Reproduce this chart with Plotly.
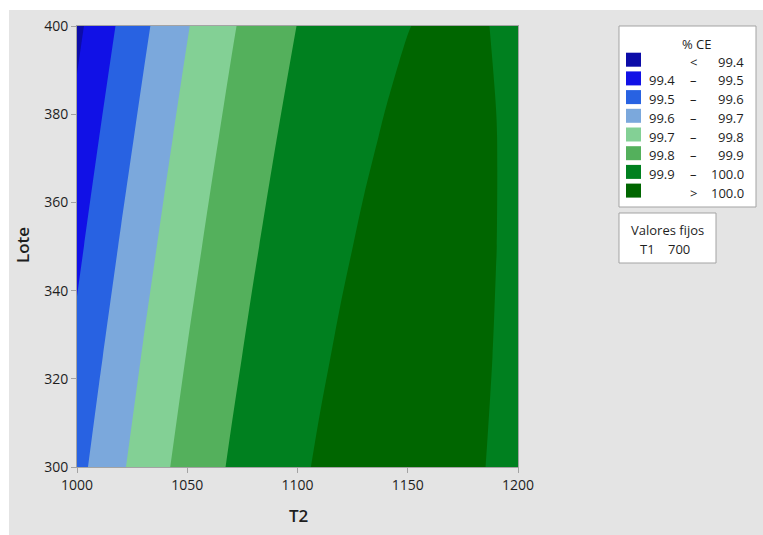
import plotly.graph_objects as go

# Response grid: %CE over T2 (columns) and Lote (rows), with T1 held at 700
T2 = [1000, 1010, 1020, 1030, 1040, 1050, 1060, 1070, 1080, 1090, 1100,
      1110, 1120, 1130, 1140, 1150, 1160, 1170, 1180, 1190, 1200]
LOTE = [300, 325, 350, 375, 400]
CE = [
    [99.5693, 99.6310, 99.6883, 99.7413, 99.7899, 99.8341, 99.8739, 99.9093, 99.9403, 99.9669, 99.9892,
     100.0070, 100.0205, 100.0296, 100.0343, 100.0346, 100.0305, 100.0220, 100.0091, 99.9919, 99.9703],
    [99.5256, 99.5899, 99.6498, 99.7054, 99.7566, 99.8034, 99.8458, 99.8838, 99.9174, 99.9467, 99.9715,
     99.9920, 100.0080, 100.0197, 100.0270, 100.0299, 100.0285, 100.0226, 100.0123, 99.9977, 99.9787],
    [99.4790, 99.5460, 99.6085, 99.6667, 99.7205, 99.7699, 99.8149, 99.8555, 99.8917, 99.9236, 99.9510,
     99.9741, 99.9927, 100.0070, 100.0169, 100.0225, 100.0236, 100.0203, 100.0127, 100.0006, 99.9842],
    [99.4296, 99.4992, 99.5643, 99.6251, 99.6815, 99.7335, 99.7811, 99.8243, 99.8631, 99.8976, 99.9277,
     99.9533, 99.9746, 99.9915, 100.0040, 100.0121, 100.0159, 100.0152, 100.0102, 100.0007, 99.9869],
    [99.3774, 99.4495, 99.5173, 99.5807, 99.6397, 99.6943, 99.7445, 99.7903, 99.8317, 99.8688, 99.9015,
     99.9297, 99.9536, 99.9731, 99.9882, 99.9990, 100.0053, 100.0072, 100.0048, 99.9980, 99.9868],
]

# Contour bands
LEVEL_START, LEVEL_END, LEVEL_STEP = 99.4, 100.0, 0.1
BAND_COLORS = ["#0c0ca8", "#1111e6", "#2862e2", "#7ba8dc",
               "#83d095", "#54b05c", "#00801f", "#006600"]
BAND_LOW = ["", "99.4", "99.5", "99.6", "99.7", "99.8", "99.9", ""]
BAND_SEP = ["<", "–", "–", "–", "–", "–", "–", ">"]
BAND_HIGH = ["99.4", "99.5", "99.6", "99.7", "99.8", "99.9", "100.0", "100.0"]

FIXED_NAME = "T1"
FIXED_VALUE = "700"

FONT = "Open Sans"
TEXT = "#1e1e1e"
FRAME = "#a3a3a3"
BG = "#e4e4e4"

# stepwise colorscale: one flat colour per filled band
n = len(BAND_COLORS)
colorscale = []
for k, c in enumerate(BAND_COLORS):
    lo = max(0.0, (2 * k - 1) / (2 * (n - 1)))
    hi = min(1.0, (2 * k + 1) / (2 * (n - 1)))
    colorscale += [[lo, c], [hi, c]]

fig = go.Figure(go.Contour(
    x=T2, y=LOTE, z=CE,
    colorscale=colorscale,
    autocontour=False,
    contours=dict(start=LEVEL_START, end=LEVEL_END, size=LEVEL_STEP, coloring="fill"),
    line=dict(width=0, smoothing=1),
    showscale=False,
    hoverinfo="x+y+z",
))

# page geometry (pixels)
W, H = 763, 535
ML, MT, PW, PH = 77, 26, 441, 441


def fx(px):
    return (px - ML) / PW


def fy(py):
    return (MT + PH - py) / PH


shapes = [
    dict(type="rect", xref="paper", yref="paper", layer="below",
         x0=fx(9), x1=fx(W), y0=fy(H), y1=fy(10),
         fillcolor=BG, line=dict(width=0)),
    # colour key box
    dict(type="rect", xref="paper", yref="paper",
         x0=fx(619), x1=fx(756), y0=fy(207), y1=fy(26),
         fillcolor="white", line=dict(color=FRAME, width=1)),
    # fixed values box
    dict(type="rect", xref="paper", yref="paper",
         x0=fx(619), x1=fx(716), y0=fy(263), y1=fy(213),
         fillcolor="white", line=dict(color=FRAME, width=1)),
]

key_font = dict(family=FONT, size=13, color=TEXT)
annotations = [
    dict(text="% CE", x=fx(697), y=fy(44), xref="paper", yref="paper",
         showarrow=False, xanchor="center", yanchor="middle", font=key_font),
]
for k in range(n):
    yc = 61.7 + 18.7 * k
    shapes.append(dict(type="rect", xref="paper", yref="paper",
                       x0=fx(626), x1=fx(641), y0=fy(yc + 5), y1=fy(yc - 9),
                       fillcolor=BAND_COLORS[k], line=dict(width=0)))
    if BAND_LOW[k]:
        annotations.append(dict(text=BAND_LOW[k], x=fx(677), y=fy(yc), xref="paper", yref="paper",
                                showarrow=False, xanchor="right", yanchor="middle", font=key_font))
    annotations.append(dict(text=BAND_SEP[k], x=fx(693), y=fy(yc), xref="paper", yref="paper",
                            showarrow=False, xanchor="center", yanchor="middle", font=key_font))
    annotations.append(dict(text=BAND_HIGH[k], x=fx(746), y=fy(yc), xref="paper", yref="paper",
                            showarrow=False, xanchor="right", yanchor="middle", font=key_font))

annotations += [
    dict(text="Valores fijos", x=fx(667.5), y=fy(230), xref="paper", yref="paper",
         showarrow=False, xanchor="center", yanchor="middle", font=key_font),
    dict(text=FIXED_NAME, x=fx(638), y=fy(249), xref="paper", yref="paper",
         showarrow=False, xanchor="left", yanchor="middle", font=key_font),
    dict(text=FIXED_VALUE, x=fx(692), y=fy(249), xref="paper", yref="paper",
         showarrow=False, xanchor="right", yanchor="middle", font=key_font),
    # axis titles
    dict(text="T2", x=fx(298), y=fy(515), xref="paper", yref="paper",
         showarrow=False, xanchor="center", yanchor="middle",
         font=dict(family=FONT, size=17, color=TEXT, weight=600)),
    dict(text="Lote", x=fx(22), y=fy(245), xref="paper", yref="paper", textangle=-90,
         showarrow=False, xanchor="center", yanchor="middle",
         font=dict(family=FONT, size=17, color=TEXT, weight=600)),
]

axis_common = dict(
    showgrid=False, zeroline=False, showline=True, mirror=True,
    linecolor=FRAME, linewidth=1,
    ticks="outside", ticklen=5, tickcolor=FRAME, tickwidth=1,
    tickfont=dict(family=FONT, size=14, color=TEXT),
)

fig.update_layout(
    width=W, height=H,
    margin=dict(l=ML, r=W - ML - PW, t=MT, b=H - MT - PH, pad=0),
    paper_bgcolor="white", plot_bgcolor=BG,
    xaxis=dict(range=[1000, 1200], tickvals=[1000, 1050, 1100, 1150, 1200], **axis_common),
    yaxis=dict(range=[300, 400], tickvals=[300, 320, 340, 360, 380, 400], **axis_common),
    shapes=shapes,
    annotations=annotations,
    showlegend=False,
)

fig.write_html("out.html")
